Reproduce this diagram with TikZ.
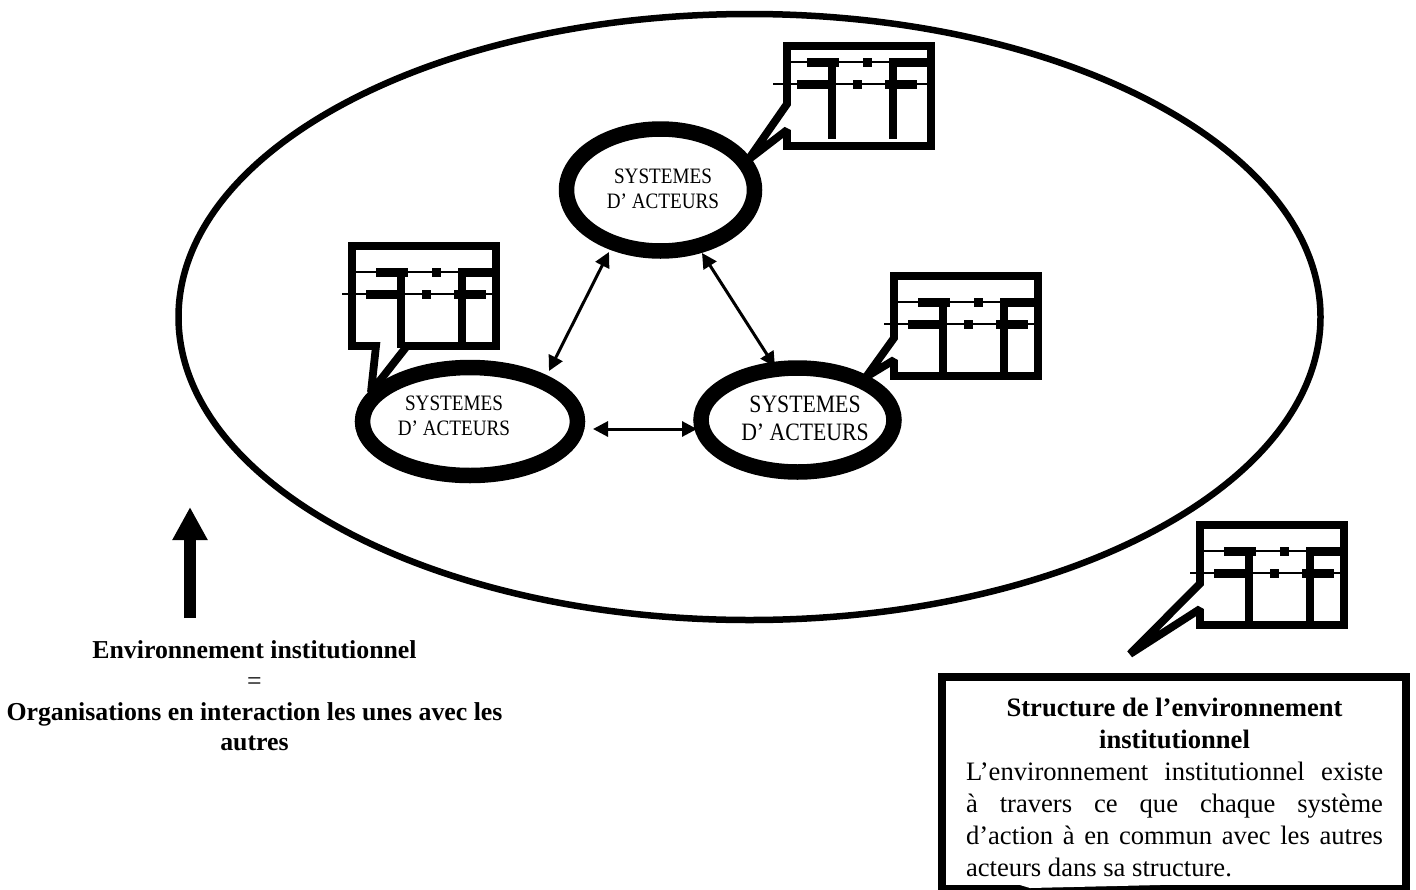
\documentclass[tikz,border=0pt]{standalone}
\usepackage{fontspec}
\setmainfont{Liberation Serif}
\newfontfamily\sysfont[FakeStretch=0.87]{Liberation Serif}
\usetikzlibrary{arrows.meta,shapes.geometric}
\tikzset{
  actor/.style={draw=black,fill=white,ellipse,line width=15.5pt,inner sep=0pt,outer sep=0pt},
  outer env/.style={draw=black,ellipse,line width=6.5pt,inner sep=0pt,outer sep=0pt},
  systxt/.style={anchor=base,inner sep=0pt,font=\sysfont\fontsize{22}{24}\selectfont},
  bigsys/.style={anchor=base,inner sep=0pt,font=\sysfont\fontsize{25}{27}\selectfont},
  link/.style={line width=3pt,{Triangle[length=15pt,width=15pt]}-{Triangle[length=15pt,width=15pt]}},
  hair/.style={line width=1.3pt},
  frameline/.style={draw=black,fill=white,line width=7.8pt,miter limit=2},
  bodytxt/.style={inner sep=0pt,font=\fontsize{25.8}{30.7}\selectfont},
  boxtxt/.style={inner sep=0pt,font=\fontsize{26.6}{32}\selectfont},
}
\newcommand{\tabinterior}[1]{%
  \draw[hair] (4,30) -- (148,30);
  \draw[hair] (-6,52) -- (148,52);
  \fill (28,26) rectangle (60,35);
  \fill (84,26) rectangle (93,35);
  \fill (116,26) rectangle (148,35);
  \fill (18,48) rectangle (57,57);
  \fill (74,48) rectangle (83,57);
  \fill (106,48) rectangle (138,57);
  \fill (49,35) rectangle (57,#1);
  \fill (110,26) rectangle (118,#1);
}
\begin{document}
\begin{tikzpicture}[x=1pt,y=-1pt]
\useasboundingbox (0,0) rectangle (1416,889);

% environment
\node[outer env,minimum width=1142pt,minimum height=606pt] (env) at (749.5,317) {};

% callouts
\begin{scope}[shift={(783,42)}]
  \draw[frameline] (4,62) -- (-35,118) -- (4,88) -- (4,104) -- (148,104) -- (148,4) -- (4,4) -- cycle;
  \begin{scope}[shift={(-4,-10)}]\tabinterior{107}\end{scope}
\end{scope}
\begin{scope}[shift={(348,242)}]
  \draw[frameline] (28,104) -- (23,150) -- (59,104) -- (148,104) -- (148,4) -- (4,4) -- (4,104) -- cycle;
  \tabinterior{106}
\end{scope}
\begin{scope}[shift={(890,272)}]
  \draw[frameline] (4,66) -- (-24,105) -- (4,88) -- (4,104) -- (148,104) -- (148,4) -- (4,4) -- cycle;
  \tabinterior{105}
\end{scope}
\begin{scope}[shift={(1196,521)}]
  \draw[frameline] (4,62.5) -- (-66,133) -- (4,88) -- (4,104) -- (148,104) -- (148,4) -- (4,4) -- cycle;
  \tabinterior{105}
\end{scope}

% actors
\node[actor,minimum width=188pt,minimum height=122pt] (top) at (660.5,190) {};
\node[actor,minimum width=215pt,minimum height=108pt] (left) at (470,421.5) {};
\node[actor,minimum width=193pt,minimum height=104pt] (right) at (797.5,420) {};

\node[systxt] (t1) at (663,183) {SYSTEMES};
\node[systxt] (t2) at (663,208) {D’ ACTEURS};
\node[systxt] (l1) at (454,410) {SYSTEMES};
\node[systxt] (l2) at (454,435) {D’ ACTEURS};
\node[bigsys] (r1) at (805,412) {SYSTEMES};
\node[bigsys] (r2) at (805,440) {D’ ACTEURS};

% links
\coordinate (a1) at (609,252);
\coordinate (a2) at (549,371);
\coordinate (b1) at (702,253);
\coordinate (b2) at (775,367);
\coordinate (c1) at (593,429);
\coordinate (c2) at (697,429);
\draw[link] (a1) -- (a2);
\draw[link] (b1) -- (b2);
\draw[link] (c1) -- (c2);

% thick arrow
\coordinate (u1) at (190,618);
\coordinate (u2) at (190,507);
\draw[line width=12pt,-{Triangle[length=33pt,width=33pt]}] (u1) -- (u2);

% left text
\node[bodytxt,align=center] (envtxt) at (254.5,696) {\textbf{Environnement institutionnel}\\=\\\textbf{Organisations en interaction les unes avec les}\\\textbf{autres}};

% info box
\node[draw=black,line width=8pt,inner sep=0pt,outer sep=0pt,minimum width=464pt,minimum height=212pt] (info) at (1174,783) {};
\fill[white] (1020,885) -- (1030,888) -- (1160,885) -- cycle;
\node[boxtxt,align=left] (infotxt) at (1174.5,787) {%
\makebox[417pt][c]{\bfseries Structure de l’environnement}\\
\makebox[417pt][c]{\bfseries institutionnel}\\
\makebox[417pt][s]{L’environnement institutionnel existe}\\
\makebox[417pt][s]{à travers ce que chaque système}\\
\makebox[417pt][s]{d’action à en commun avec les autres}\\
\makebox[417pt][l]{acteurs dans sa structure.}};
\end{tikzpicture}
\end{document}
